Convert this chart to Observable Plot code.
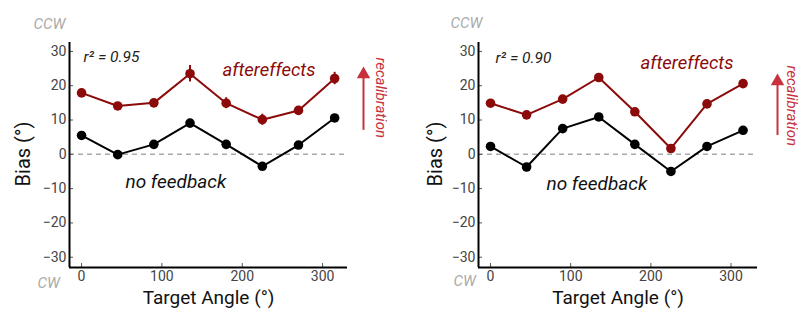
<!DOCTYPE html>
<html>
<head>
<meta charset="utf-8">
<script src="https://cdn.jsdelivr.net/npm/d3@7"></script>
<script src="https://cdn.jsdelivr.net/npm/@observablehq/plot@0.6"></script>
<style>
  html, body { margin: 0; padding: 0; background: #fff; }
  #wrap { display: flex; width: 807px; height: 326px; }
  svg { overflow: visible; }
</style>
</head>
<body>
<div id="wrap"></div>
<script>
const angles = [0, 45, 90, 135, 180, 225, 270, 315];
const xTicks = [0, 100, 200, 300];
const yTicks = [-30, -20, -10, 0, 10, 20, 30];

const leftAfter = [17.9, 14.1, 15.0, 23.5, 14.9, 10.1, 12.8, 22.1];
const leftAfterErr = [1.0, 0.8, 1.0, 2.4, 1.6, 1.6, 1.0, 1.8];
const leftNoFb = [5.5, -0.1, 2.9, 9.1, 2.9, -3.5, 2.7, 10.6];
const leftR2 = "r² = 0.95";

const rightAfter = [14.9, 11.5, 16.1, 22.4, 12.4, 1.7, 14.7, 20.6];
const rightAfterErr = [0.6, 0.6, 0.6, 0.6, 0.6, 0.6, 0.6, 0.6];
const rightNoFb = [2.3, -3.7, 7.5, 10.9, 2.9, -5.0, 2.3, 7.0];
const rightR2 = "r² = 0.90";

const RED = "#8c0a0a";
const ARROW_RED = "#c8323c";
const FONT = "Roboto, 'Liberation Sans', sans-serif";

function panel(o) {
  const {after, err, nofb, r2, width, ml, mr, xdom, lay} = o;
  const A = angles.map((a, i) => ({a, v: after[i], lo: after[i] - err[i], hi: after[i] + err[i]}));
  const N = angles.map((a, i) => ({a, v: nofb[i]}));
  const x0 = xdom[0], x1 = xdom[1];
  return Plot.plot({
    width, height: 326,
    marginLeft: ml, marginRight: mr, marginTop: 42, marginBottom: 59,
    style: {fontFamily: FONT, background: "transparent", overflow: "visible"},
    x: {type: "linear", domain: xdom, label: null},
    y: {type: "linear", domain: [-33, 32.6], label: null},
    marks: [
      Plot.ruleY([0], {stroke: "#aaa", strokeWidth: 1.5, strokeDasharray: "5,4"}),
      Plot.axisY(yTicks, {tickSize: -4, stroke: "#555", fontSize: 14, fill: "#444", tickPadding: 7, label: null}),
      Plot.axisX(xTicks, {tickSize: -4, stroke: "#555", fontSize: 14, fill: "#444", tickPadding: 8, label: null}),
      // axis lines
      Plot.ruleX([x0], {stroke: "#000", strokeWidth: 2}),
      Plot.ruleY([-33], {stroke: "#000", strokeWidth: 2}),
      // data
      Plot.line(N, {x: "a", y: "v", stroke: "#000", strokeWidth: 2}),
      Plot.dot(N, {x: "a", y: "v", r: 4.8, fill: "#000"}),
      Plot.ruleX(A, {x: "a", y1: "lo", y2: "hi", stroke: RED, strokeWidth: 2}),
      Plot.line(A, {x: "a", y: "v", stroke: RED, strokeWidth: 2}),
      Plot.dot(A, {x: "a", y: "v", r: 4.8, fill: RED}),
      // annotations
      Plot.text([r2], {frameAnchor: "top-left", dx: lay.r2[0], dy: lay.r2[1], text: d => d, fontSize: 15.5, fontStyle: "italic", fill: "#222", textAnchor: "start"}),
      Plot.text(["aftereffects"], {frameAnchor: "top-right", dx: lay.after[0], dy: lay.after[1], text: d => d, fontSize: 18.5, fontStyle: "italic", fill: RED, textAnchor: "end"}),
      Plot.text(["no feedback"], {frameAnchor: "top-left", dx: lay.nofb[0], dy: lay.nofb[1], text: d => d, fontSize: 19, fontStyle: "italic", fill: "#111", textAnchor: "start"}),
      Plot.text(["CCW"], {frameAnchor: "top-left", dx: lay.ccw[0], dy: lay.ccw[1], text: d => d, fontSize: 15, fontStyle: "italic", fill: "#aaa", textAnchor: "start"}),
      Plot.text(["CW"], {frameAnchor: "bottom-left", dx: lay.cw[0], dy: lay.cw[1], text: d => d, fontSize: 15, fontStyle: "italic", fill: "#aaa", textAnchor: "start"}),
      Plot.text(["Bias (°)"], {frameAnchor: "left", dx: lay.bias, dy: -1, rotate: -90, text: d => d, fontSize: 20, fill: "#111", textAnchor: "middle"}),
      Plot.text(["Target Angle (°)"], {frameAnchor: "bottom", dx: 0, dy: 36, text: d => d, fontSize: 19, fill: "#111", textAnchor: "middle"}),
      Plot.ruleX([x1], {y1: lay.arrow[1], y2: lay.arrow[2], dx: lay.arrow[0], stroke: ARROW_RED, strokeWidth: 2}),
      Plot.dot([x1], {x: d => d, y: lay.arrow[2], dx: lay.arrow[0], r: 5, symbol: "triangle", fill: ARROW_RED, stroke: "none"}),
      Plot.text(["recalibration"], {frameAnchor: "top-right", dx: lay.recal[0], dy: lay.recal[1], rotate: 90, text: d => d, fontSize: 15, fontStyle: "italic", fill: ARROW_RED, textAnchor: "start"})
    ]
  });
}

const wrap = document.getElementById("wrap");
wrap.appendChild(panel({after: leftAfter, err: leftAfterErr, nofb: leftNoFb, r2: leftR2, width: 400, ml: 69, mr: 53, xdom: [-15, 331],
  lay: {r2: [14, 8], after: [-32, 20], nofb: [56, 132], ccw: [-36, -24], cw: [-32, 20], bias: -46, arrow: [16, 7.0, 23.3], recal: [39, 15]}}));
wrap.appendChild(panel({after: rightAfter, err: rightAfterErr, nofb: rightNoFb, r2: rightR2, width: 407, ml: 78, mr: 50, xdom: [-15, 333],
  lay: {r2: [17, 9], after: [-24, 13], nofb: [68, 134], ccw: [-28, -25], cw: [-25, 18], bias: -43, arrow: [20, 5.5, 21.3], recal: [40, 23]}}));
</script>
</body>
</html>
